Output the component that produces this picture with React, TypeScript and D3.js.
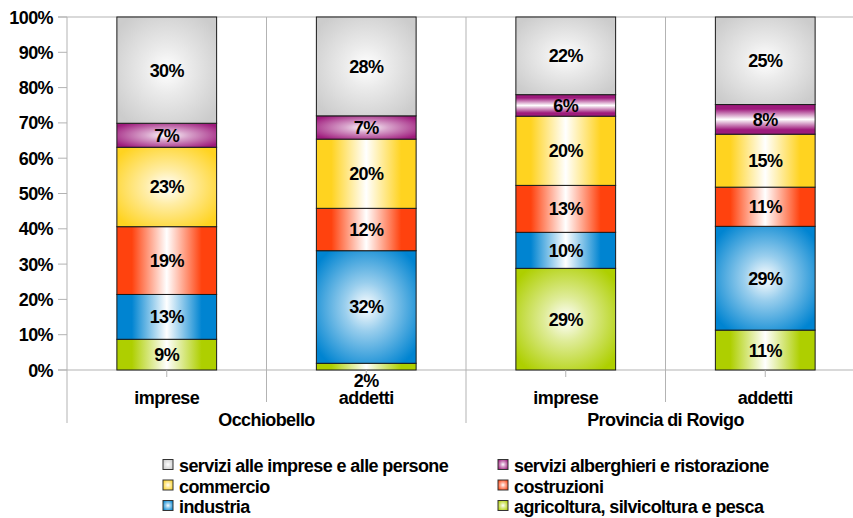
import React from "react";
import * as d3 from "d3";

const groups = ["Occhiobello", "Provincia di Rovigo"];
const categories = ["imprese", "addetti", "imprese", "addetti"];
const categoryGroup = [0, 0, 1, 1];
const seriesNames = [
  "agricoltura, silvicoltura e pesca",
  "industria",
  "costruzioni",
  "commercio",
  "servizi alberghieri e ristorazione",
  "servizi alle imprese e alle persone",
];
// values in %, per bar (bottom to top series order)
const agricoltura = [8.7, 1.9, 28.8, 11.3];
const industria = [12.7, 31.9, 10.2, 29.4];
const costruzioni = [19.2, 12.0, 13.3, 11.1];
const commercio = [22.5, 19.6, 19.6, 15.0];
const alberghieri = [6.8, 6.6, 6.1, 8.4];
const servizi = [30.1, 28.0, 22.0, 24.8];
const yTicks = [0, 10, 20, 30, 40, 50, 60, 70, 80, 90, 100];

const seriesValues = [agricoltura, industria, costruzioni, commercio, alberghieri, servizi];
const colors = ["#aecf00", "#0084d1", "#ff420e", "#ffd320", "#9e1a7c", "#cccccc"];
// gradient style per series per bar: r radial, h horizontal axial, v vertical axial
const gradStyle = [
  ["h", "h", "r", "h"],
  ["h", "r", "h", "r"],
  ["h", "h", "h", "h"],
  ["r", "h", "h", "h"],
  ["r", "r", "v", "v"],
  ["r", "r", "r", "r"],
];

// legend layout order: [series index, column, row]
const legendItems: [number, number, number][] = [
  [5, 0, 0],
  [4, 1, 0],
  [3, 0, 1],
  [2, 1, 1],
  [1, 0, 2],
  [0, 1, 2],
];

const W = 853;
const H = 518;
const FONT = "'Liberation Sans', Arial, sans-serif";

export default function App() {
  const keys = categories.map((c, i) => `${i}`);
  const x = d3.scaleBand<string>().domain(keys).range([67, 865]).paddingInner(0.5).paddingOuter(0.25);
  const y = d3.scaleLinear().domain([0, 100]).range([370, 17]);
  const stack = d3
    .stack<number>()
    .keys(seriesNames.map((_, i) => `${i}`))
    .value((bi, k) => seriesValues[+k][bi]);
  const stacked = stack(categories.map((_, i) => i));
  const grid = "#b3b3b3";
  const step = x.step();
  const x0 = 67;

  const defs: JSX.Element[] = [];
  colors.forEach((c, si) => {
    const light = d3.interpolateRgb(c, "#ffffff");
    defs.push(
      <radialGradient key={`r${si}`} id={`r${si}`} cx="0.5" cy="0.5" r="0.62">
        <stop offset="0" stopColor="#ffffff" />
        <stop offset="0.35" stopColor={light(0.6)} />
        <stop offset="1" stopColor={c} />
      </radialGradient>
    );
    defs.push(
      <linearGradient key={`h${si}`} id={`h${si}`} x1="0" x2="1" y1="0" y2="0">
        <stop offset="0" stopColor={c} />
        <stop offset="0.15" stopColor={c} />
        <stop offset="0.5" stopColor="#ffffff" />
        <stop offset="0.85" stopColor={c} />
        <stop offset="1" stopColor={c} />
      </linearGradient>
    );
    defs.push(
      <linearGradient key={`v${si}`} id={`v${si}`} x1="0" x2="0" y1="0" y2="1">
        <stop offset="0" stopColor={c} />
        <stop offset="0.15" stopColor={c} />
        <stop offset="0.5" stopColor="#ffffff" />
        <stop offset="0.85" stopColor={c} />
        <stop offset="1" stopColor={c} />
      </linearGradient>
    );
  });

  const vLines = [0, 1, 2, 3].map((i) => x0 + i * step);

  return (
    <svg
      width={W}
      height={H}
      style={{ position: "absolute", left: 0, top: 0, background: "#fff" }}
      fontFamily={FONT}
    >
      <defs>{defs}</defs>
      <rect width={W} height={H} fill="#fff" />
      {/* vertical separators */}
      {vLines.map((vx, i) => (
        <line
          key={`vl${i}`}
          x1={vx}
          x2={vx}
          y1={y(100)}
          y2={i % 2 === 0 ? 423 : 402}
          stroke={grid}
          strokeWidth={1}
        />
      ))}
      {/* top line and axis */}
      <line x1={58} x2={W} y1={y(100)} y2={y(100)} stroke={grid} />
      <line x1={58} x2={W} y1={y(0)} y2={y(0)} stroke={grid} />
      {yTicks.map((t) => (
        <g key={`yt${t}`}>
          <line x1={58} x2={67} y1={y(t)} y2={y(t)} stroke={grid} />
          <text
            x={53}
            y={y(t) + 6.5}
            textAnchor="end"
            fontSize={18}
            fontWeight="bold"
            letterSpacing={-0.6}
            fill="#000"
          >
            {t}%
          </text>
        </g>
      ))}
      {/* bars */}
      {stacked.map((s, si) =>
        s.map((d, bi) => {
          const bx = x(keys[bi])!;
          const bw = x.bandwidth();
          const yt = y(d[1]);
          const yb = y(d[0]);
          return (
            <rect
              key={`b${si}-${bi}`}
              x={bx}
              y={yt}
              width={bw}
              height={yb - yt}
              fill={`url(#${gradStyle[si][bi]}${si})`}
              stroke="#1a1a1a"
              strokeWidth={1}
            />
          );
        })
      )}
      {/* category ticks */}
      {keys.map((k) => (
        <line
          key={`ct${k}`}
          x1={x(k)! + x.bandwidth() / 2}
          x2={x(k)! + x.bandwidth() / 2}
          y1={y(0)}
          y2={y(0) + 7}
          stroke={grid}
        />
      ))}
      {/* data labels */}
      {stacked.map((s, si) =>
        s.map((d, bi) => {
          const cx = x(keys[bi])! + x.bandwidth() / 2;
          const h = y(d[0]) - y(d[1]);
          const cy = h < 10 ? y(0) + 10 : (y(d[0]) + y(d[1])) / 2;
          return (
            <text
              key={`l${si}-${bi}`}
              x={cx}
              y={cy + 6.5}
              textAnchor="middle"
              fontSize={18}
              fontWeight="bold"
              letterSpacing={-0.6}
              fill="#000"
            >
              {Math.round(d[1] - d[0])}%
            </text>
          );
        })
      )}
      {/* category labels */}
      {keys.map((k, i) => (
        <text
          key={`cl${k}`}
          x={x(k)! + x.bandwidth() / 2}
          y={404}
          textAnchor="middle"
          fontSize={18}
          fontWeight="bold"
          letterSpacing={-0.6}
        >
          {categories[i]}
        </text>
      ))}
      {groups.map((g, gi) => {
        const idx = categoryGroup.map((cg, i) => (cg === gi ? i : -1)).filter((i) => i >= 0);
        const a = x(keys[idx[0]])! + x.bandwidth() / 2;
        const b = x(keys[idx[idx.length - 1]])! + x.bandwidth() / 2;
        return (
          <text
            key={`g${gi}`}
            x={(a + b) / 2}
            y={426}
            textAnchor="middle"
            fontSize={18}
            fontWeight="bold"
            letterSpacing={-0.6}
          >
            {g}
          </text>
        );
      })}
      {/* legend */}
      {legendItems.map(([si, col, row]) => {
        const sx = col === 0 ? 163 : 498;
        const base = 472 + row * 20.5;
        return (
          <g key={`lg${si}`}>
            <rect
              x={sx}
              y={base - 12.5}
              width={10}
              height={10}
              fill={`url(#r${si})`}
              stroke="#333"
              strokeWidth={1}
            />
            <text
              x={sx + 16}
              y={base}
              fontSize={18}
              fontWeight="bold"
              letterSpacing={-0.6}
            >
              {seriesNames[si]}
            </text>
          </g>
        );
      })}
    </svg>
  );
}
